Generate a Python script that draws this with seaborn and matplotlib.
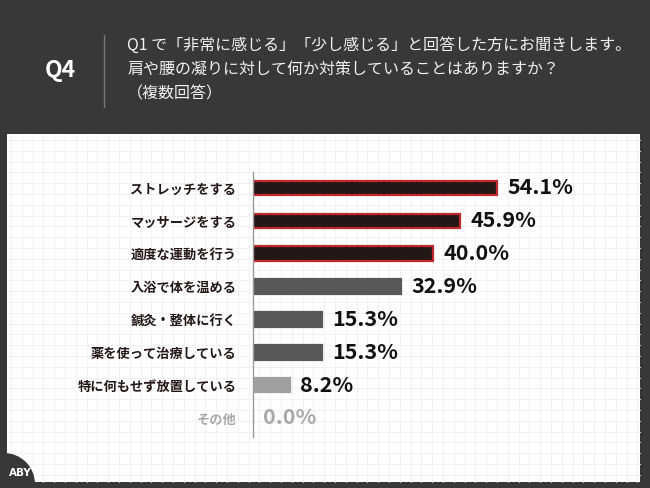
import matplotlib
matplotlib.use("Agg")
import matplotlib.pyplot as plt
from matplotlib.patches import Rectangle, Circle
import numpy as np
import pandas as pd
import seaborn as sns

# ---- data ----
categories = ["ストレッチをする", "マッサージをする", "適度な運動を行う", "入浴で体を温める",
              "鍼灸・整体に行く", "薬を使って治療している", "特に何もせず放置している", "その他"]
values = [54.1, 45.9, 40.0, 32.9, 15.3, 15.3, 8.2, 0.0]
value_labels = ["54.1%", "45.9%", "40.0%", "32.9%", "15.3%", "15.3%", "8.2%", "0.0%"]
title_q = "Q4"
question_lines = ["Q1 で「非常に感じる」「少し感じる」と回答した方にお聞きします。",
                  "肩や腰の凝りに対して何か対策していることはありますか？",
                  "（複数回答）"]

# ---- styles ----
fill_colors = ["#231815", "#231815", "#231815", "#595757", "#595757", "#595757", "#9f9fa0", "#9f9fa0"]
edge_colors = ["#c1272d", "#c1272d", "#c1272d", "#595757", "#595757", "#595757", "#9f9fa0", "#9f9fa0"]
label_colors = ["#231815"] * 7 + ["#a9a9a9"]
value_colors = ["#111111"] * 7 + ["#a9a9a9"]

sns.set_theme(style="white")
plt.rcParams['font.family'] = ['Noto Sans CJK JP', 'DejaVu Sans']

W, H = 650, 488
fig = plt.figure(figsize=(6.5, 4.88), dpi=100)
fig.patch.set_facecolor("#38383a")

# background / frame axes in pixel coords
bg = fig.add_axes([0, 0, 1, 1])
bg.set_xlim(0, W)
bg.set_ylim(H, 0)
bg.axis("off")
px0, py0, px1, py1 = 7, 134, 640, 482
bg.add_patch(Rectangle((px0, py0), px1 - px0, py1 - py0, facecolor="white", edgecolor="none", zorder=1))
step = 10.8
gx = px0 + 4
while gx < px1:
    bg.plot([gx, gx], [py0, py1], color="#f1f1f1", lw=0.7, zorder=2)
    gx += step
gy = py0 + 6
while gy < py1:
    bg.plot([px0, px1], [gy, gy], color="#f1f1f1", lw=0.7, zorder=2)
    gy += step
bg.add_patch(Circle((4, 484), 31, facecolor="#38383a", edgecolor="none", zorder=3))
bg.text(9, 473, "ABY", color="white", fontsize=7.5, fontweight="bold", ha="left", va="center",
        family=["DejaVu Sans"], zorder=4)

# header
bg.text(60, 70, title_q, color="white", fontsize=16.5, fontweight="bold", ha="center", va="center", zorder=4)
bg.plot([104, 104], [35, 107], color="#7a7a7a", lw=1, zorder=4)
for i, line in enumerate(question_lines):
    bg.text(127, 45 + i * 24.5, line, color="#f2f2f2", fontsize=11.5, ha="left", va="center", zorder=4)

# bar axes
ax_left, ax_right = 253, 640
ax_top, ax_bottom = 172, 437
ax = fig.add_axes([ax_left / W, 1 - ax_bottom / H, (ax_right - ax_left) / W, (ax_bottom - ax_top) / H])
ax.patch.set_alpha(0)
df = pd.DataFrame({"category": categories, "value": values})
sns.barplot(data=df, x="value", y="category", hue="category", palette=fill_colors,
            order=categories, hue_order=categories, legend=False, width=0.44,
            orient="h", ax=ax, saturation=1)
for p, ec in zip(ax.patches, edge_colors):
    p.set_edgecolor(ec)
    p.set_linewidth(1.6)
px_per_unit = 4.51
ax.set_xlim(0, (ax_right - ax_left) / px_per_unit)
row_px = (418 - 188) / 7
ax.set_ylim(7 + (ax_bottom - 418) / row_px, -(188 - ax_top) / row_px)
ax.set_xlabel("")
ax.set_ylabel("")
ax.set_xticks([])
ax.tick_params(axis="y", length=0, pad=12)
ax.set_yticks(range(len(categories)))
ax.set_yticklabels(categories, fontsize=9.5, fontweight="bold")
for t, c in zip(ax.get_yticklabels(), label_colors):
    t.set_color(c)
for s in ["top", "right", "bottom"]:
    ax.spines[s].set_visible(False)
ax.spines["left"].set_color("#9a9a9a")
ax.spines["left"].set_linewidth(1)
for i, (v, lab) in enumerate(zip(values, value_labels)):
    ax.annotate(lab, xy=(v, i), xytext=(10, 0), textcoords="offset pixels",
                ha="left", va="center", fontsize=15.5, fontweight="bold", color=value_colors[i])

fig.savefig("out.png", dpi=100, facecolor=fig.get_facecolor())
